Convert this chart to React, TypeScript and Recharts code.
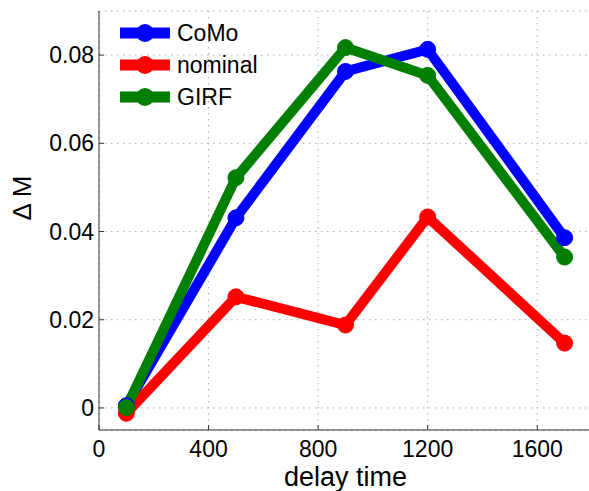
import React from "react";
import { LineChart, Line, XAxis, YAxis, CartesianGrid } from "recharts";

const delays = [100, 500, 900, 1200, 1700];
const como = [0.0005, 0.0431, 0.0763, 0.0813, 0.0386];
const nominal = [-0.0012, 0.0252, 0.0188, 0.0433, 0.0147];
const girf = [0.0001, 0.0522, 0.0817, 0.0754, 0.0342];

const xTicks = [0, 400, 800, 1200, 1600];
const yTicks = [0, 0.02, 0.04, 0.06, 0.08];

const series = [
  { key: "como", name: "CoMo", color: "#0000ff" },
  { key: "nominal", name: "nominal", color: "#ff0000" },
  { key: "girf", name: "GIRF", color: "#007f00" },
];

const data = delays.map((d, i) => ({ delay: d, como: como[i], nominal: nominal[i], girf: girf[i] }));

const font = "'Liberation Sans', Arial, sans-serif";
const axisColor = "#333";

// ticks point inwards, like matlab
const BottomTick = (p: any) => (
  <g>
    <line x1={p.x} y1={p.y} x2={p.x} y2={p.y - 5} stroke={axisColor} />
    <text x={p.x} y={p.y + 11} dy="0.71em" textAnchor="middle" fill="#000" fontSize={23} fontFamily={font}>
      {p.payload.value}
    </text>
  </g>
);
const LeftTick = (p: any) => (
  <g>
    <line x1={p.x} y1={p.y} x2={p.x + 5} y2={p.y} stroke={axisColor} />
    <text x={p.x - 5} y={p.y} dy="0.355em" textAnchor="end" fill="#000" fontSize={23} fontFamily={font}>
      {String(p.payload.value)}
    </text>
  </g>
);
const TopTick = (p: any) => <line x1={p.x} y1={p.y} x2={p.x} y2={p.y + 5} stroke={axisColor} />;
const RightTick = (p: any) => <line x1={p.x} y1={p.y} x2={p.x - 5} y2={p.y} stroke={axisColor} />;

function LegendBox() {
  return (
    <div style={{ position: "absolute", left: 120, top: 17, fontFamily: font, fontSize: 23, color: "#000", lineHeight: "32px" }}>
      {series.map((s) => (
        <div key={s.key} style={{ display: "flex", alignItems: "center", height: 32 }}>
          <svg width={50} height={20} style={{ marginRight: 7 }}>
            <line x1={0} y1={10} x2={50} y2={10} stroke={s.color} strokeWidth={11} />
            <circle cx={25} cy={10} r={9} fill={s.color} />
          </svg>
          <span>{s.name}</span>
        </div>
      ))}
    </div>
  );
}

export default function App() {
  return (
    <div style={{ position: "absolute", left: 0, top: 0, width: 589, height: 491, overflow: "hidden", background: "#fff" }}>
      <LineChart width={595} height={491} data={data} margin={{ top: 11, right: 3, bottom: 0, left: 0 }}>
        <CartesianGrid stroke="#aaa" strokeDasharray="1.5 4.5" />
        <XAxis
          dataKey="delay"
          type="number"
          domain={[0, 1800]}
          ticks={xTicks}
          allowDataOverflow
          height={61}
          stroke={axisColor}
          tickSize={0}
          tickMargin={0}
          tick={BottomTick}
          label={{ value: "delay time", position: "insideBottom", offset: 5, fill: "#000", fontSize: 27, fontFamily: font }}
        />
        <XAxis
          xAxisId="top"
          orientation="top"
          dataKey="delay"
          type="number"
          domain={[0, 1800]}
          ticks={xTicks}
          allowDataOverflow
          height={0}
          stroke={axisColor}
          tickSize={0}
          tick={TopTick}
        />
        <YAxis
          type="number"
          domain={[-0.005, 0.09]}
          ticks={yTicks}
          allowDataOverflow
          width={99}
          stroke={axisColor}
          tickSize={0}
          tickMargin={0}
          tick={LeftTick}
          label={{ value: "Δ M", angle: -90, position: "insideLeft", offset: 22, fill: "#000", fontSize: 26, fontFamily: font }}
        />
        <YAxis
          yAxisId="right"
          orientation="right"
          type="number"
          domain={[-0.005, 0.09]}
          ticks={yTicks}
          allowDataOverflow
          width={0}
          stroke={axisColor}
          tickSize={0}
          tick={RightTick}
        />
        {series.map((s) => (
          <Line
            key={s.key}
            dataKey={s.key}
            name={s.name}
            type="linear"
            stroke={s.color}
            strokeWidth={10}
            dot={{ r: 8, fill: s.color, stroke: s.color, strokeWidth: 1 }}
            activeDot={false}
            isAnimationActive={false}
          />
        ))}
      </LineChart>
      <LegendBox />
    </div>
  );
}
